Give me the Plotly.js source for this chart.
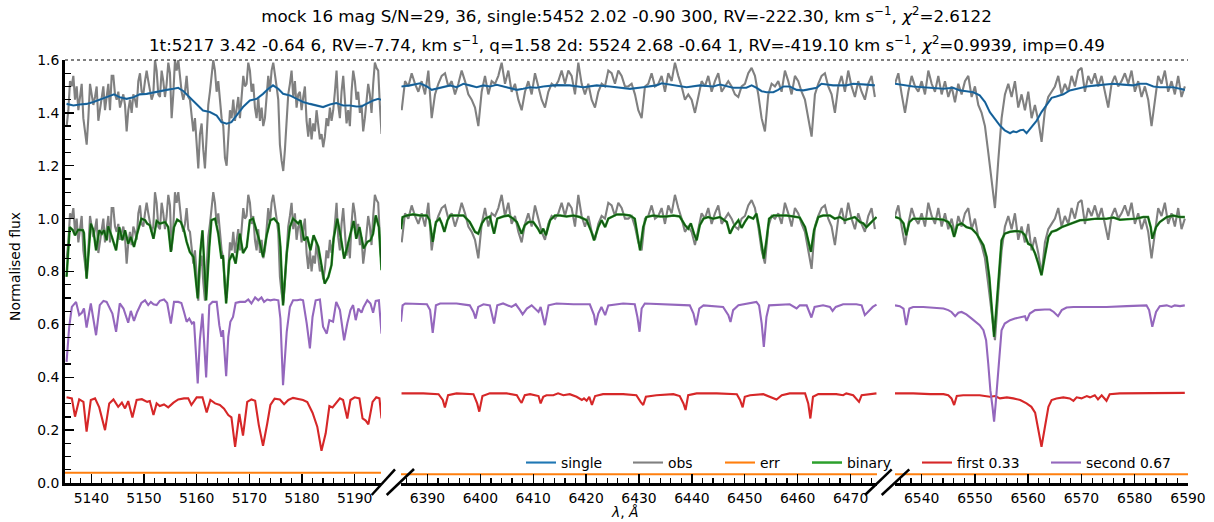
<!DOCTYPE html>
<html><head><meta charset="utf-8">
<script src="https://cdn.plot.ly/plotly-3.0.1.min.js"></script>
<style>html,body{margin:0;padding:0;background:#fff}#chart{width:1214px;height:522px}</style>
</head><body><div id="chart"></div>
<script>
// ---------------- DATA ----------------
const range1 = [5135, 5195];
const range2 = [6385, 6475];
const range3 = [6535, 6590];
const tickStep = 10, minorStep = 2;

const obs1Start = 5135.32, obs1Step = 0.3163;
const obs1 = [0.85,0.91,1.02,1.00,1.04,0.95,1.00,0.91,0.96,1.01,
0.88,0.83,0.78,0.88,1.01,0.97,0.93,0.96,1.00,0.87,
0.92,0.95,1.00,0.91,0.96,1.01,0.91,1.04,1.04,0.97,
0.95,0.98,0.92,0.95,0.97,0.93,0.83,0.91,0.95,0.90,
0.97,0.95,0.92,1.02,1.05,0.98,0.97,1.02,1.06,1.02,
0.98,0.95,0.97,1.10,1.06,0.97,0.96,1.06,1.02,0.96,
1.01,1.09,1.05,0.88,0.97,1.10,1.06,1.10,1.04,0.98,
0.95,0.98,1.04,0.96,0.95,0.90,0.83,0.88,0.78,0.69,
0.82,0.86,0.76,0.69,0.81,0.93,0.98,1.04,1.10,1.06,
0.98,1.02,0.93,0.88,0.85,0.73,0.70,0.81,0.91,0.88,
0.95,0.87,0.92,0.96,0.88,0.98,1.04,1.00,1.01,1.09,
1.06,0.98,1.01,0.92,0.88,0.96,0.87,0.92,0.85,0.88,
0.97,1.04,0.98,1.06,1.09,1.05,1.00,0.95,0.78,0.72,
0.68,0.76,0.88,0.97,1.01,1.06,0.96,1.02,0.92,0.97,
0.98,0.91,0.96,1.00,0.87,0.81,0.88,0.80,0.86,0.83,
0.91,0.85,0.80,0.82,0.77,0.81,0.88,0.85,0.92,0.87,
0.91,0.98,1.06,0.93,0.88,0.98,1.04,0.95,0.86,0.91,
0.85,0.98,1.06,1.02,0.95,0.98,0.90,0.93,0.83,0.88,
0.95,1.01,0.97,0.90,1.01,1.09,1.07,1.06,0.93,0.82];

const obs2Start = 6385.13, obs2Step = 0.6301;
const obs2 = [0.91,1.02,1.00,1.05,1.01,0.98,1.02,0.97,1.06,0.88,
0.97,1.01,1.04,1.05,1.00,1.02,0.97,1.01,1.06,1.02,
0.97,0.95,0.92,0.85,0.98,1.04,0.97,1.02,1.01,1.04,
1.09,1.01,1.06,0.98,1.01,0.95,0.91,0.98,1.02,0.97,
1.05,1.00,0.95,0.92,0.98,1.01,1.00,1.02,1.06,1.01,
1.06,1.04,0.97,1.09,1.01,0.97,1.01,0.95,0.92,0.98,
1.01,1.00,1.06,1.05,1.01,1.06,1.04,1.00,1.00,1.01,
0.97,0.91,0.88,1.00,1.01,1.05,1.00,1.01,1.04,0.98,
1.05,1.02,1.09,1.04,1.00,0.95,0.97,0.95,0.90,0.96,
1.02,1.00,1.04,0.98,1.02,1.05,0.98,1.00,1.02,1.00,
0.97,0.96,1.00,1.01,1.05,1.07,1.04,0.97,0.88,0.83,
0.97,1.01,1.00,1.02,0.98,1.06,1.02,0.97,1.04,1.02,
0.98,0.95,0.88,0.81,0.97,1.01,1.04,1.05,1.00,0.97,
0.90,1.00,1.04,0.98,1.06,1.00,0.96,1.02,0.98,0.95,
1.01,1.04,0.96];

const obs3Start = 6535.0, obs3Step = 0.6254;
const obs3 = [1.01,1.05,0.97,0.90,0.98,1.04,1.00,0.98,1.02,0.97,
1.06,1.01,0.98,1.04,0.97,1.02,0.96,1.00,0.94,1.01,
0.97,1.02,1.04,0.96,1.00,0.93,0.90,0.85,0.75,0.64,
0.54,0.72,0.88,0.97,1.01,0.96,1.02,0.92,0.97,0.91,
0.98,0.88,0.93,0.87,0.79,0.91,0.96,0.98,1.00,1.04,
0.97,1.01,0.98,1.04,1.00,1.06,1.07,0.98,1.04,1.01,
1.05,1.00,1.04,0.98,0.92,1.01,1.04,1.00,1.02,1.05,
1.01,1.06,0.98,1.02,0.96,1.00,0.95,0.85,0.95,1.04,
1.01,1.06,0.98,1.02,0.97,1.04,0.96,1.00];

const obsShift = 0.5;

const single1 = [[5135.3,1.434],[5136.6,1.428],[5137.8,1.432],[5139.1,1.434],[5140.4,1.441],[5141.6,1.449],[5142.9,1.459],[5144.3,1.470],[5145.4,1.459],[5146.7,1.453],[5148.0,1.459],[5149.2,1.470],[5150.5,1.472],[5151.8,1.478],[5153.0,1.482],[5154.3,1.487],[5155.6,1.491],[5156.5,1.495],[5157.5,1.482],[5158.7,1.459],[5160.0,1.434],[5161.2,1.409],[5162.5,1.403],[5163.8,1.390],[5164.7,1.365],[5165.7,1.359],[5166.6,1.365],[5167.6,1.390],[5168.8,1.422],[5170.1,1.447],[5171.4,1.453],[5172.6,1.472],[5173.6,1.491],[5174.5,1.504],[5175.5,1.491],[5176.4,1.472],[5177.7,1.466],[5179.0,1.453],[5180.2,1.441],[5181.5,1.434],[5182.8,1.428],[5184.0,1.422],[5185.3,1.432],[5186.5,1.437],[5187.8,1.428],[5189.1,1.428],[5190.3,1.424],[5191.3,1.424],[5192.2,1.434],[5193.5,1.447],[5194.5,1.453],[5195.1,1.449]];
const single2 = [[6385.1,1.500],[6386.7,1.504],[6388.6,1.512],[6389.9,1.500],[6390.8,1.487],[6392.4,1.495],[6394.3,1.504],[6395.5,1.497],[6396.8,1.510],[6398.0,1.504],[6399.3,1.497],[6400.6,1.504],[6401.8,1.500],[6403.1,1.506],[6404.3,1.500],[6405.6,1.495],[6406.9,1.487],[6408.1,1.491],[6409.4,1.497],[6410.6,1.495],[6411.9,1.500],[6414.4,1.505],[6416.9,1.504],[6419.5,1.497],[6422.0,1.504],[6424.5,1.500],[6427.0,1.495],[6428.3,1.491],[6430.8,1.497],[6433.3,1.504],[6434.3,1.512],[6436.5,1.506],[6439.0,1.497],[6441.5,1.504],[6444.0,1.500],[6445.3,1.507],[6447.8,1.495],[6450.3,1.495],[6451.3,1.504],[6452.2,1.495],[6453.2,1.482],[6454.1,1.478],[6455.4,1.478],[6456.3,1.487],[6457.3,1.500],[6458.5,1.500],[6459.8,1.487],[6461.1,1.485],[6462.3,1.491],[6463.6,1.495],[6464.5,1.510],[6466.7,1.504],[6469.2,1.504],[6470.5,1.510],[6473.0,1.507],[6474.6,1.504]];
const single3 = [[6535.0,1.510],[6536.6,1.504],[6538.4,1.500],[6540.3,1.497],[6542.2,1.495],[6544.1,1.491],[6545.9,1.495],[6547.2,1.485],[6548.4,1.482],[6549.7,1.478],[6550.9,1.466],[6551.9,1.441],[6552.8,1.403],[6553.8,1.378],[6554.7,1.352],[6555.6,1.334],[6556.6,1.323],[6557.2,1.330],[6557.8,1.327],[6558.5,1.334],[6559.1,1.336],[6559.7,1.323],[6560.6,1.346],[6561.6,1.371],[6562.5,1.403],[6563.5,1.434],[6564.4,1.457],[6565.3,1.462],[6566.6,1.470],[6567.8,1.485],[6569.1,1.491],[6571.0,1.500],[6572.8,1.504],[6574.7,1.507],[6576.0,1.510],[6577.8,1.507],[6579.7,1.504],[6581.0,1.510],[6582.2,1.510],[6583.5,1.500],[6584.7,1.497],[6586.0,1.497],[6587.2,1.497],[6588.5,1.491],[6589.4,1.487]];

const binary1 = [[5135.3,0.780],[5135.9,0.968],[5136.5,0.956],[5136.9,0.937],[5137.5,0.958],[5138.4,0.956],[5138.6,0.946],[5139.1,0.773],[5139.9,0.981],[5140.4,0.956],[5140.9,0.880],[5141.5,0.956],[5142.0,0.943],[5142.4,0.956],[5142.9,0.918],[5143.2,0.971],[5143.9,0.931],[5144.7,0.880],[5145.3,0.968],[5145.9,0.918],[5146.4,0.956],[5147.0,0.905],[5147.5,0.931],[5148.1,0.893],[5148.7,0.943],[5149.5,1.000],[5150.2,0.994],[5150.6,0.981],[5151.1,0.975],[5151.8,0.924],[5152.4,0.991],[5153.0,0.981],[5154.0,0.987],[5154.6,0.968],[5155.1,0.874],[5155.7,0.968],[5156.3,0.996],[5157.0,0.987],[5157.6,0.956],[5158.1,0.912],[5158.7,0.874],[5159.4,0.855],[5160.2,0.698],[5160.7,0.874],[5161.1,0.956],[5161.8,0.691],[5162.4,0.893],[5162.8,0.994],[5163.5,1.000],[5164.1,0.943],[5164.7,0.849],[5165.0,0.861],[5165.6,0.679],[5166.2,0.842],[5166.8,0.868],[5167.4,0.830],[5168.2,0.943],[5168.8,0.870],[5169.5,0.893],[5170.1,0.994],[5170.7,1.000],[5171.4,0.956],[5171.9,0.918],[5172.6,0.855],[5173.3,0.937],[5174.0,0.994],[5174.7,1.000],[5175.5,0.981],[5175.9,0.893],[5176.4,0.672],[5177.1,0.868],[5177.7,0.968],[5178.3,1.000],[5179.3,0.981],[5179.7,0.994],[5180.4,0.918],[5181.0,0.931],[5181.6,0.880],[5182.2,0.937],[5183.1,0.893],[5183.7,0.817],[5184.3,0.754],[5185.0,0.779],[5185.6,0.824],[5186.0,0.924],[5186.7,1.000],[5187.3,0.937],[5188.0,0.849],[5188.6,0.893],[5189.4,0.956],[5189.8,0.991],[5190.3,0.924],[5190.9,0.968],[5191.7,0.887],[5192.4,0.912],[5193.0,0.918],[5193.5,0.943],[5194.0,1.012],[5194.6,0.968],[5195.1,0.805]];
const binary2 = [[6385.0,0.960],[6385.3,1.006],[6386.1,1.012],[6387.3,1.016],[6388.6,1.012],[6389.9,1.012],[6390.4,0.994],[6391.0,0.912],[6391.6,0.987],[6392.3,1.000],[6392.7,0.982],[6393.2,0.950],[6393.8,0.994],[6394.3,1.012],[6395.5,1.012],[6396.8,1.012],[6398.0,0.987],[6399.0,0.950],[6399.6,0.943],[6400.3,0.982],[6400.9,1.000],[6401.8,1.008],[6402.6,0.943],[6403.2,1.000],[6404.3,1.008],[6405.3,1.012],[6406.2,1.000],[6406.9,0.987],[6407.8,0.943],[6408.4,0.975],[6409.1,0.987],[6410.0,0.987],[6410.9,0.962],[6411.4,0.943],[6411.9,0.962],[6412.4,0.937],[6413.2,0.994],[6414.1,1.012],[6415.1,1.012],[6416.3,1.008],[6417.6,1.012],[6418.8,1.006],[6420.1,0.994],[6421.0,0.950],[6421.5,0.918],[6422.3,0.968],[6422.9,0.994],[6423.6,0.968],[6424.2,1.000],[6425.8,1.016],[6427.0,1.016],[6428.3,1.012],[6429.2,1.000],[6429.7,0.943],[6430.2,0.880],[6430.8,0.968],[6431.4,1.006],[6432.7,1.012],[6434.0,1.008],[6435.2,1.008],[6436.5,1.012],[6437.7,1.008],[6438.7,0.975],[6439.3,0.962],[6439.8,0.982],[6440.4,0.943],[6440.9,0.918],[6441.5,0.975],[6442.2,1.000],[6443.1,1.006],[6444.0,1.000],[6445.3,1.006],[6446.6,0.987],[6447.2,0.943],[6447.8,0.968],[6448.8,0.994],[6449.4,0.965],[6450.0,0.987],[6450.7,1.008],[6451.6,1.000],[6452.2,1.019],[6452.7,0.968],[6453.4,0.880],[6453.6,0.849],[6454.1,0.918],[6454.6,1.000],[6455.4,1.012],[6456.6,1.012],[6457.9,1.012],[6459.2,1.008],[6460.4,1.004],[6461.4,0.968],[6462.0,0.918],[6462.5,0.874],[6463.1,0.956],[6463.9,1.006],[6464.8,1.012],[6466.1,1.012],[6467.0,1.000],[6468.0,1.006],[6468.9,0.994],[6469.9,1.000],[6470.8,1.006],[6471.8,0.987],[6472.4,0.982],[6473.0,0.968],[6474.0,0.987],[6474.9,1.006]];
const binary3 = [[6535.0,1.006],[6535.9,1.000],[6536.6,0.982],[6537.1,0.937],[6537.7,0.987],[6538.4,1.000],[6540.3,1.000],[6542.2,1.000],[6544.1,0.996],[6545.0,0.987],[6545.6,0.968],[6546.1,0.931],[6546.7,0.975],[6547.5,0.982],[6548.4,0.968],[6549.4,0.962],[6550.3,0.943],[6550.9,0.924],[6551.6,0.899],[6552.2,0.855],[6552.7,0.780],[6553.1,0.679],[6553.6,0.553],[6554.1,0.679],[6554.6,0.805],[6555.0,0.918],[6555.6,0.943],[6556.6,0.950],[6557.8,0.953],[6558.8,0.950],[6559.4,0.937],[6560.0,0.905],[6560.6,0.899],[6561.3,0.868],[6561.9,0.830],[6562.5,0.786],[6563.1,0.855],[6563.8,0.931],[6564.4,0.950],[6565.3,0.956],[6566.3,0.968],[6567.2,0.975],[6568.1,0.982],[6569.1,0.987],[6569.7,0.994],[6571.0,0.996],[6572.8,1.000],[6574.7,1.000],[6576.0,1.004],[6577.2,0.996],[6579.1,1.000],[6580.3,1.000],[6581.6,1.006],[6582.5,1.006],[6583.0,0.968],[6583.3,0.924],[6584.0,0.968],[6584.7,0.987],[6586.0,1.006],[6587.2,1.012],[6588.5,1.006],[6589.4,1.006]];

const first1 = [[5135.3,0.324],[5136.3,0.320],[5136.9,0.251],[5137.7,0.316],[5138.5,0.307],[5139.1,0.194],[5139.9,0.314],[5140.7,0.320],[5141.5,0.286],[5142.6,0.200],[5143.4,0.301],[5144.2,0.316],[5145.1,0.288],[5145.8,0.304],[5146.4,0.282],[5147.0,0.310],[5147.8,0.248],[5148.6,0.314],[5149.6,0.317],[5150.6,0.307],[5151.1,0.310],[5151.8,0.257],[5152.4,0.301],[5153.0,0.291],[5153.8,0.297],[5154.6,0.286],[5155.6,0.304],[5156.5,0.316],[5157.6,0.320],[5158.4,0.320],[5159.0,0.295],[5160.0,0.324],[5161.1,0.324],[5161.9,0.267],[5162.6,0.314],[5163.5,0.301],[5164.4,0.295],[5165.2,0.281],[5166.0,0.257],[5166.6,0.248],[5167.3,0.137],[5168.1,0.261],[5168.8,0.179],[5169.6,0.307],[5170.4,0.316],[5171.1,0.311],[5171.8,0.219],[5172.6,0.141],[5173.4,0.225],[5174.0,0.295],[5174.8,0.319],[5175.8,0.316],[5176.6,0.298],[5177.4,0.314],[5178.3,0.322],[5179.3,0.319],[5180.2,0.314],[5181.0,0.306],[5182.0,0.266],[5182.9,0.213],[5183.7,0.122],[5184.5,0.188],[5185.2,0.291],[5185.8,0.286],[5186.4,0.301],[5187.2,0.320],[5187.8,0.314],[5188.6,0.244],[5189.2,0.314],[5190.0,0.324],[5190.9,0.320],[5191.5,0.244],[5192.1,0.236],[5192.6,0.222],[5193.4,0.307],[5194.1,0.324],[5194.7,0.320],[5195.1,0.244]];
const first2 = [[6385.1,0.339],[6389.2,0.339],[6392.1,0.336],[6392.9,0.314],[6393.3,0.286],[6393.9,0.332],[6395.5,0.339],[6398.7,0.336],[6399.4,0.301],[6399.8,0.270],[6400.4,0.329],[6401.8,0.339],[6405.0,0.339],[6406.9,0.332],[6407.5,0.311],[6407.8,0.303],[6408.4,0.332],[6409.4,0.336],[6411.0,0.329],[6411.4,0.301],[6411.9,0.326],[6412.5,0.332],[6413.8,0.332],[6414.7,0.339],[6415.7,0.332],[6416.9,0.336],[6418.2,0.326],[6419.2,0.314],[6419.6,0.320],[6420.1,0.311],[6420.6,0.326],[6421.1,0.295],[6421.7,0.329],[6423.2,0.336],[6427.0,0.336],[6429.5,0.332],[6430.3,0.307],[6430.8,0.295],[6431.3,0.326],[6432.2,0.329],[6433.3,0.332],[6436.5,0.336],[6437.7,0.329],[6438.4,0.301],[6438.8,0.276],[6439.3,0.332],[6440.9,0.339],[6444.7,0.339],[6448.5,0.336],[6449.1,0.314],[6449.6,0.286],[6450.0,0.326],[6451.0,0.332],[6453.5,0.336],[6454.8,0.324],[6456.0,0.316],[6457.0,0.332],[6458.5,0.339],[6461.4,0.339],[6462.0,0.301],[6462.4,0.244],[6462.9,0.326],[6463.9,0.336],[6467.3,0.336],[6468.6,0.332],[6469.2,0.339],[6470.5,0.332],[6471.1,0.316],[6471.6,0.307],[6472.1,0.332],[6473.7,0.336],[6474.9,0.339]];
const first3 = [[6535.0,0.339],[6538.4,0.339],[6541.6,0.336],[6544.1,0.336],[6545.0,0.332],[6545.6,0.320],[6546.1,0.295],[6546.6,0.329],[6547.8,0.332],[6550.9,0.332],[6552.8,0.326],[6553.8,0.329],[6554.7,0.320],[6556.0,0.324],[6557.2,0.320],[6558.5,0.314],[6559.7,0.301],[6560.6,0.288],[6561.3,0.266],[6561.9,0.200],[6562.5,0.137],[6563.1,0.207],[6563.8,0.288],[6564.4,0.314],[6565.3,0.320],[6566.6,0.324],[6567.8,0.320],[6568.5,0.311],[6569.1,0.324],[6570.0,0.320],[6571.0,0.329],[6571.6,0.324],[6572.5,0.332],[6573.1,0.316],[6573.8,0.332],[6574.7,0.311],[6575.3,0.336],[6577.2,0.339],[6582.2,0.339],[6586.0,0.341],[6589.4,0.341]];

const second1 = [[5135.3,0.458],[5135.8,0.591],[5136.3,0.666],[5137.1,0.685],[5137.7,0.635],[5138.2,0.644],[5138.6,0.660],[5139.1,0.588],[5139.9,0.679],[5140.9,0.559],[5141.6,0.673],[5142.3,0.689],[5142.9,0.685],[5143.5,0.660],[5144.0,0.641],[5144.7,0.572],[5145.4,0.679],[5146.1,0.660],[5146.7,0.622],[5147.0,0.606],[5147.5,0.651],[5148.1,0.613],[5148.7,0.647],[5149.5,0.681],[5150.2,0.691],[5150.8,0.673],[5151.3,0.685],[5151.8,0.676],[5152.4,0.673],[5153.0,0.689],[5153.8,0.694],[5154.4,0.681],[5155.1,0.603],[5155.7,0.685],[5156.5,0.685],[5157.1,0.681],[5157.6,0.647],[5158.1,0.610],[5158.6,0.622],[5159.1,0.603],[5159.5,0.610],[5160.2,0.377],[5160.6,0.540],[5161.1,0.641],[5161.8,0.399],[5162.4,0.673],[5163.0,0.685],[5163.8,0.685],[5164.3,0.597],[5164.7,0.553],[5165.0,0.578],[5165.6,0.404],[5166.0,0.553],[5166.4,0.610],[5166.9,0.628],[5167.4,0.681],[5168.2,0.685],[5169.2,0.685],[5169.8,0.694],[5170.4,0.679],[5171.1,0.702],[5171.7,0.691],[5172.3,0.702],[5172.8,0.685],[5173.4,0.694],[5174.0,0.691],[5174.7,0.694],[5175.5,0.691],[5175.9,0.622],[5176.4,0.370],[5177.1,0.572],[5177.7,0.666],[5178.3,0.691],[5179.1,0.691],[5179.7,0.694],[5180.2,0.691],[5180.9,0.603],[5181.5,0.509],[5182.0,0.628],[5182.6,0.691],[5183.4,0.694],[5184.0,0.591],[5184.7,0.565],[5185.2,0.616],[5185.9,0.610],[5186.5,0.685],[5187.2,0.654],[5188.0,0.540],[5188.6,0.603],[5189.2,0.654],[5189.7,0.673],[5190.2,0.616],[5190.7,0.660],[5191.3,0.644],[5191.7,0.666],[5192.4,0.691],[5193.0,0.679],[5193.5,0.644],[5194.0,0.689],[5194.6,0.691],[5195.1,0.565]];
const second2 = [[6385.0,0.610],[6385.3,0.672],[6385.8,0.679],[6388.0,0.676],[6389.9,0.676],[6390.5,0.654],[6391.0,0.568],[6391.6,0.672],[6392.4,0.679],[6395.5,0.679],[6398.0,0.672],[6398.7,0.647],[6399.1,0.622],[6399.6,0.666],[6400.6,0.676],[6401.8,0.672],[6402.6,0.603],[6403.2,0.672],[6404.3,0.679],[6405.9,0.666],[6406.7,0.676],[6407.5,0.654],[6408.0,0.638],[6408.8,0.660],[6409.7,0.672],[6411.0,0.647],[6411.4,0.666],[6412.2,0.597],[6412.9,0.672],[6414.4,0.679],[6417.6,0.676],[6420.7,0.676],[6421.5,0.635],[6421.8,0.597],[6422.3,0.641],[6422.9,0.666],[6423.6,0.635],[6424.2,0.672],[6427.0,0.679],[6429.2,0.676],[6429.7,0.628],[6430.1,0.572],[6430.5,0.660],[6431.1,0.679],[6436.5,0.676],[6439.6,0.672],[6440.3,0.641],[6440.8,0.597],[6441.4,0.660],[6442.2,0.672],[6445.9,0.666],[6446.9,0.635],[6447.3,0.609],[6447.8,0.654],[6448.8,0.672],[6451.0,0.679],[6452.2,0.685],[6452.7,0.672],[6453.2,0.603],[6453.6,0.515],[6454.1,0.628],[6454.6,0.672],[6458.5,0.676],[6459.8,0.660],[6460.4,0.672],[6461.7,0.672],[6462.2,0.647],[6462.6,0.626],[6463.2,0.666],[6464.8,0.672],[6466.1,0.666],[6466.6,0.651],[6467.2,0.666],[6468.6,0.676],[6471.1,0.676],[6472.1,0.672],[6472.7,0.635],[6473.3,0.647],[6474.2,0.666],[6474.9,0.675]];
const second3 = [[6535.0,0.672],[6535.9,0.669],[6536.6,0.660],[6537.1,0.597],[6537.7,0.660],[6538.4,0.666],[6540.3,0.666],[6542.2,0.664],[6544.1,0.660],[6545.0,0.654],[6545.6,0.647],[6546.3,0.631],[6546.9,0.644],[6547.5,0.647],[6548.4,0.638],[6549.4,0.622],[6550.3,0.609],[6550.9,0.597],[6551.6,0.578],[6552.1,0.540],[6552.5,0.452],[6552.9,0.351],[6553.3,0.288],[6553.6,0.232],[6553.9,0.301],[6554.3,0.402],[6554.6,0.502],[6555.0,0.578],[6555.6,0.603],[6556.6,0.616],[6557.5,0.622],[6558.5,0.628],[6559.4,0.631],[6559.7,0.613],[6560.3,0.641],[6561.3,0.654],[6562.2,0.656],[6563.1,0.656],[6564.1,0.656],[6564.8,0.647],[6565.6,0.631],[6566.3,0.654],[6567.2,0.664],[6568.5,0.666],[6571.0,0.666],[6574.7,0.666],[6578.5,0.669],[6581.0,0.672],[6582.2,0.672],[6582.7,0.654],[6583.3,0.591],[6584.0,0.647],[6584.7,0.669],[6586.0,0.672],[6586.9,0.666],[6587.5,0.672],[6588.5,0.669],[6589.4,0.672]];

const err1 = [[5135,0.039],[5195,0.039]];
const err2 = [[6385,0.033],[6475,0.033]];
const err3 = [[6535,0.033],[6590,0.033]];

const legendNames = ['single','obs','err','binary','first 0.33','second 0.67'];

// ---------------- PLOT ----------------
const FONT = 'DejaVu Sans, Verdana, sans-serif';
const COL = {single:'#1f77b4', obs:'#808080', err:'#ff7f0e', binary:'#2ca02c', first:'#d62728', second:'#9467bd'};
const xs = p => p.map(d => d[0]);
const ys = p => p.map(d => d[1]);
function grid(start, step, n){ const a=[]; for(let i=0;i<n;i++) a.push(+(start+i*step).toFixed(3)); return a; }

const panels = [
  {xa:'x',  obsStart:obs1Start, obsStep:obs1Step, obs:obs1, single:single1, binary:binary1, first:first1, second:second1, err:err1},
  {xa:'x2', obsStart:obs2Start, obsStep:obs2Step, obs:obs2, single:single2, binary:binary2, first:first2, second:second2, err:err2},
  {xa:'x3', obsStart:obs3Start, obsStep:obs3Step, obs:obs3, single:single3, binary:binary3, first:first3, second:second3, err:err3}
];

const traces = [];
panels.forEach((p, i) => {
  const show = i === 0;
  const ox = grid(p.obsStart, p.obsStep, p.obs.length);
  const base = {xaxis:p.xa, yaxis:'y', mode:'lines', hoverinfo:'skip'};
  traces.push(Object.assign({}, base, {x:ox, y:p.obs.map(v => v + obsShift), line:{color:COL.obs, width:2.1}, showlegend:false}));
  traces.push(Object.assign({}, base, {x:ox, y:p.obs, name:legendNames[1], legend:'legend2', line:{color:COL.obs, width:2.1}, showlegend:show}));
  traces.push(Object.assign({}, base, {x:xs(p.single), y:ys(p.single), name:legendNames[0], legend:'legend', line:{color:COL.single, width:2.1}, showlegend:show}));
  traces.push(Object.assign({}, base, {x:xs(p.single), y:ys(p.single), line:{color:'rgba(10,20,50,0.3)', width:1.1}, showlegend:false}));
  traces.push(Object.assign({}, base, {x:xs(p.err), y:ys(p.err), name:legendNames[2], legend:'legend3', line:{color:COL.err, width:2.1}, showlegend:show}));
  traces.push(Object.assign({}, base, {x:xs(p.binary), y:ys(p.binary), name:legendNames[3], legend:'legend4', line:{color:COL.binary, width:2.5}, showlegend:show}));
  traces.push(Object.assign({}, base, {x:xs(p.binary), y:ys(p.binary), line:{color:'rgba(0,20,0,0.55)', width:1.5}, showlegend:false}));
  traces.push(Object.assign({}, base, {x:xs(p.first), y:ys(p.first), name:legendNames[4], legend:'legend5', line:{color:COL.first, width:2.1}, showlegend:show}));
  traces.push(Object.assign({}, base, {x:xs(p.second), y:ys(p.second), name:legendNames[5], legend:'legend6', line:{color:COL.second, width:2.1}, showlegend:show}));
});

const tickFont = {family:FONT, size:13.9, color:'#000'};
function xAxis(domain, range){
  return {domain:domain, range:range, anchor:'y', showline:true, linewidth:3, linecolor:'#000',
    ticks:'inside', ticklen:9, tickwidth:1.4, tickcolor:'#000', tick0:0, dtick:tickStep, tickformat:'d',
    showgrid:false, zeroline:false, tickfont:tickFont, fixedrange:true,
    minor:{ticks:'inside', ticklen:5.5, tickwidth:1.2, tickcolor:'#000', dtick:minorStep, showgrid:false}};
}
const W = 1123, H = 423;
const px = v => (v - 65) / W;
const py = v => (483 - v) / H;

function legendAt(left){
  return {x:px(left), xanchor:'left', y:py(463), yanchor:'middle', orientation:'h',
    bgcolor:'rgba(0,0,0,0)', borderwidth:0, font:{family:FONT, size:13.9, color:'#000'}};
}
const brk = (x0,y0,x1,y1) => ({type:'line', xref:'paper', yref:'paper', x0:px(x0), y0:py(y0), x1:px(x1), y1:py(y1), line:{color:'#000', width:2.5}});

const layout = {
  width:1214, height:522, margin:{l:65, r:26, t:60, b:39}, paper_bgcolor:'#fff', plot_bgcolor:'rgba(0,0,0,0)',
  font:{family:FONT, color:'#000'},
  title:{text:'mock 16 mag S/N=29, 36, single:5452 2.02 -0.90 300, RV=-222.30, km s<sup>\u22121</sup>, <i>\u03c7</i><sup>2</sup>=2.6122',
    x:0.5, xref:'paper', xanchor:'center', y:1 - 16/522, yref:'container', yanchor:'middle', font:{family:FONT, size:16.7, color:'#000'}},
  xaxis:xAxis([0, px(381)], range1),
  xaxis2:xAxis([px(401), px(877)], range2),
  xaxis3:xAxis([px(895), 1], range3),
  yaxis:{domain:[0,1], range:[0,1.6], anchor:'x', showline:true, linewidth:3, linecolor:'#000',
    ticks:'inside', ticklen:9, tickwidth:1.4, tickcolor:'#000', tick0:0, dtick:0.2, tickformat:'.1f',
    showgrid:false, zeroline:false, tickfont:tickFont, fixedrange:true,
    minor:{ticks:'inside', ticklen:5.5, tickwidth:1.2, tickcolor:'#000', dtick:0.05, showgrid:false}},
  legend:legendAt(521), legend2:legendAt(628), legend3:legendAt(720),
  legend4:legendAt(807), legend5:legendAt(917), legend6:legendAt(1046),
  shapes:[
    {type:'line', xref:'paper', yref:'paper', x0:0, x1:1, y0:1, y1:1, line:{color:'#000', width:1, dash:'dot'}},
    brk(371.7,495,395,469.3), brk(386.7,495,414,469), brk(865,495,891.7,469.3), brk(881.7,495,909.3,469.3)
  ],
  annotations:[
    {text:'1t:5217 3.42 -0.64 6, RV=-7.74, km s<sup>\u22121</sup>, q=1.58 2d: 5524 2.68 -0.64 1, RV=-419.10 km s<sup>\u22121</sup>, <i>\u03c7</i><sup>2</sup>=0.9939, imp=0.49',
      xref:'paper', yref:'paper', x:0.5, y:py(44), xanchor:'center', yanchor:'middle', showarrow:false, font:{family:FONT, size:16.7, color:'#000'}},
    {text:'Normalised flux', xref:'paper', yref:'paper', x:px(15), y:py(267), xanchor:'center', yanchor:'middle', textangle:-90, showarrow:false, font:{family:FONT, size:13.9, color:'#000'}},
    {text:'<i>\u03bb</i>, <i>\u00c5</i>', xref:'paper', yref:'paper', x:px(625), y:py(512), xanchor:'center', yanchor:'middle', showarrow:false, font:{family:FONT, size:13.9, color:'#000'}}
  ],
  hovermode:false, showlegend:true
};

Plotly.newPlot('chart', traces, layout, {staticPlot:true, displayModeBar:false})
  .then(gd => Plotly.relayout(gd, {'yaxis.ticklen':9, 'xaxis.ticklen':9, 'xaxis2.ticklen':9, 'xaxis3.ticklen':9}))
  .catch(() => {});
</script></body></html>
